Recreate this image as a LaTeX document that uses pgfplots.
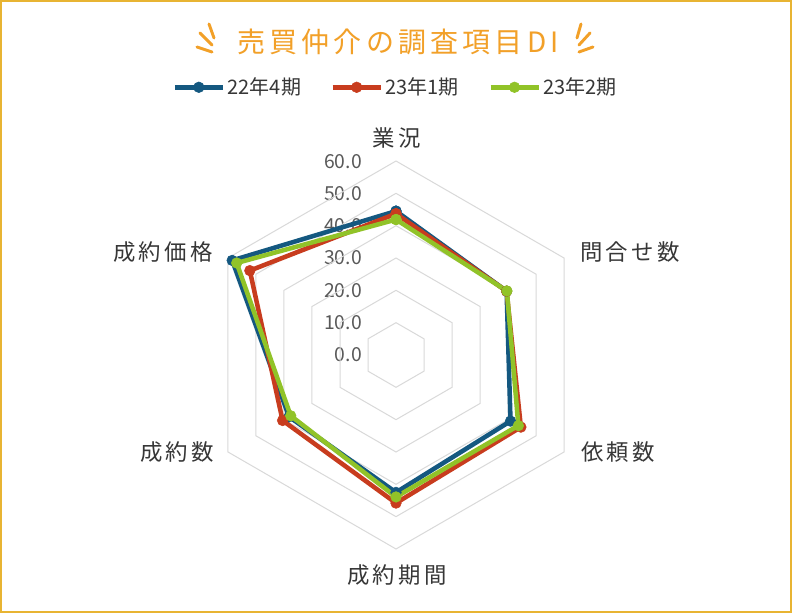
\documentclass[border=0pt]{standalone}
\usepackage{fontspec}
\setmainfont{Noto Sans CJK JP}
\newfontfamily\lbl[LetterSpace=15]{Noto Sans CJK JP}
\newfontfamily\ttl[LetterSpace=15]{Noto Sans CJK JP}
\usepackage{pgfplots}
\pgfplotsset{compat=1.18}
\usepgfplotslibrary{polar}
\definecolor{bordergold}{RGB}{232,180,50}
\definecolor{titleorange}{RGB}{242,160,40}
\definecolor{sblue}{RGB}{20,88,128}
\definecolor{sred}{RGB}{200,60,30}
\definecolor{sgreen}{RGB}{145,195,40}
\definecolor{gridgray}{RGB}{217,217,217}
\definecolor{txt}{RGB}{55,55,55}
\definecolor{tick}{RGB}{89,89,89}
\begin{document}
\begin{tikzpicture}[x=0.75pt,y=0.75pt]
\useasboundingbox (0,0) rectangle (792,613);
\fill[white] (0,0) rectangle (792,613);
\draw[bordergold, line width=1.5pt] (1,1) rectangle (791,612);
% title
\node[titleorange, font=\ttl\fontsize{21}{25}\selectfont] at (398,571) {売買仲介の調査項目DI};
\begin{scope}[titleorange, line width=2.2pt, line cap=round]
\draw (209,589) -- (214,575);
\draw (200,580) -- (212,568);
\draw (197,566) -- (212,561);
\draw (581,589) -- (577,575);
\draw (590,580) -- (579,568);
\draw (593,566) -- (579,561);
\end{scope}
% tick labels
\foreach \k/\t in {0/0.0,1/10.0,2/20.0,3/30.0,4/40.0,5/50.0,6/60.0}{
  \node[anchor=east, tick, font=\fontsize{14.5}{16}\selectfont, inner sep=0pt] at (362,258+32.3*\k) {\t};
}
\begin{polaraxis}[
  at={(297pt,193.5pt)}, anchor=center,
  scale only axis, width=291pt, height=291pt,
  ymin=0, ymax=60, hide axis, clip=false,
  legend style={at={(axis description cs:0.5,1.19)}, anchor=center, draw=none, fill=none,
    font=\fontsize{15}{17}\selectfont, text=txt, legend columns=3,
    /tikz/every even column/.append style={column sep=20pt}},
  legend image code/.code={\draw[#1, mark repeat=2, mark phase=2] plot coordinates {(0pt,0pt)(18pt,0pt)(36pt,0pt)};},
]
\foreach \r in {10,20,30,40,50,60}{
  \edef\tmp{\noexpand\addplot[draw=gridgray, line width=0.75pt, no markers, forget plot] coordinates {(90,\r)(30,\r)(330,\r)(270,\r)(210,\r)(150,\r)(90,\r)};}
  \tmp
}
\addplot[sblue, line width=3.4pt, mark=*, mark size=4pt, mark options={solid, line width=0.4pt}] coordinates {
 (90,44.5) (30,39.5) (330,40.9) (270,42.5) (210,38.2) (150,58.5) (90,44.5)};
\addlegendentry{22年4期}
\addplot[sred, line width=3.4pt, mark=*, mark size=4pt, mark options={solid, line width=0.4pt}] coordinates {
 (90,43.7) (30,39.5) (330,44.6) (270,45.8) (210,40.5) (150,52.2) (90,43.7)};
\addlegendentry{23年1期}
\addplot[sgreen, line width=3.4pt, mark=*, mark size=4pt, mark options={solid, line width=0.4pt}] coordinates {
 (90,41.9) (30,39.6) (330,43.7) (270,43.9) (210,37.6) (150,56.9) (90,41.9)};
\addlegendentry{23年2期}
\end{polaraxis}
% category labels
\begin{scope}[every node/.style={txt, font=\lbl\fontsize{16.8}{19}\selectfont}]
\node at (397,475) {業況};
\node at (630,361) {問合せ数};
\node at (618,161) {依頼数};
\node at (397,38) {成約期間};
\node at (177,161) {成約数};
\node at (163,361) {成約価格};
\end{scope}
\end{tikzpicture}
\end{document}
